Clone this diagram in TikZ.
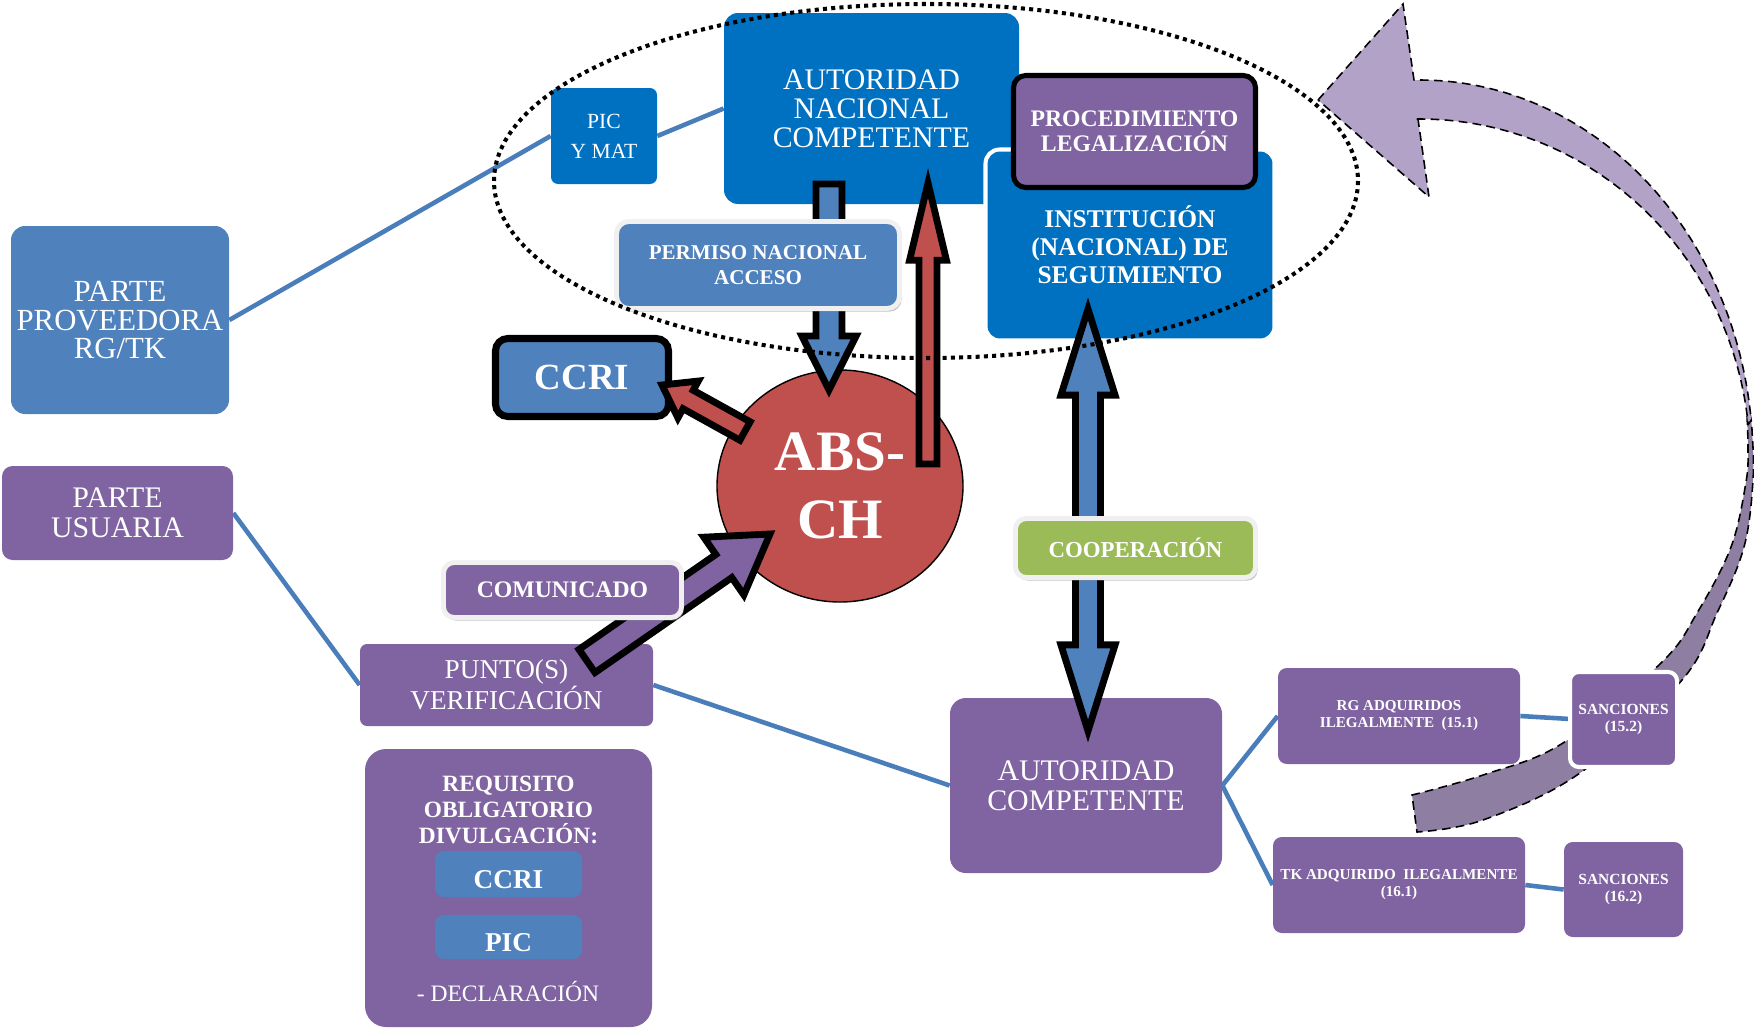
\documentclass[tikz,border=0pt]{standalone}
\usepackage{fontspec}
\setmainfont{Liberation Serif}
\usetikzlibrary{calc,shadows,shapes.geometric}
\definecolor{bA}{HTML}{0070C0}
\definecolor{bB}{HTML}{4F81BD}
\definecolor{pu}{HTML}{8064A2}
\definecolor{rd}{HTML}{C0504D}
\definecolor{gr}{HTML}{9BBB59}
\definecolor{lavL}{HTML}{B2A2C7}
\definecolor{lavD}{HTML}{8E7FA2}
\definecolor{lineB}{HTML}{4A7EBB}
\definecolor{rim}{HTML}{F0F0F0}
\newcommand{\fsz}[2]{\fontsize{#1pt}{#2pt}\selectfont}
\newcommand{\blkarrow}[6]{%
  \coordinate (hb) at ($(#3)!#6!(#2)$);
  \draw[#1] ($(#2)!#4!90:(#3)$) -- ($(hb)!#4!90:(#3)$) -- ($(hb)!#5!90:(#3)$) -- (#3)
    -- ($(hb)!#5!-90:(#3)$) -- ($(hb)!#4!-90:(#3)$) -- ($(#2)!#4!-90:(#3)$) -- cycle;}
\pgfdeclarelayer{bg}
\pgfsetlayers{bg,main}
\begin{document}
\begin{tikzpicture}[x=0.02cm,y=-0.02cm,
  bx/.style={rectangle, rounded corners=6pt, inner sep=0pt, align=center, text=white},
  wh/.style 2 args={minimum width=#1*0.02cm, minimum height=#2*0.02cm},
  txt/.style={inner sep=0pt, align=center, text=white},
  conn/.style={draw=lineB, line width=2.6pt},
  rimbox/.style={draw=rim, line width=2.8pt, drop shadow={shadow xshift=1.2pt,shadow yshift=-1.8pt,fill=black!45}},
  blk/.style={draw=black, line width=3.9pt, line join=miter, miter limit=12},
  ribbon/.style={draw=black, line width=0.9pt, dash pattern=on 5pt off 3pt},
  dotring/.style={draw=black, line width=2.3pt, dash pattern=on 2.3pt off 2.4pt}]
\begin{pgfonlayer}{bg}
\fill[white] (0,0) rectangle (1754,1028);
\end{pgfonlayer}
\useasboundingbox (0,0) rectangle (1754,1028);

% ---------- boxes ----------
\node[bx, fill=bB, wh={218}{188}, rounded corners=8pt, font=\fsz{17.5}{16.5}] (prov) at (120,320) {PARTE\\PROVEEDORA\\RG/TK};
\node[bx, fill=pu, wh={231}{94}, font=\fsz{17}{17}] (usu) at (117.5,513) {PARTE\\USUARIA};
\node[bx, fill=bA, wh={106}{96}, rounded corners=4pt, font=\fsz{12.3}{17}] (pic) at (604,136) {PIC\\Y MAT};
\node[bx, fill=bA, wh={295}{191}, rounded corners=8pt, font=\fsz{17}{16.5}] (anc) at (871.5,108.5) {AUTORIDAD\\NACIONAL\\COMPETENTE};
\node[bx, fill=bA, draw=white, line width=2.3pt, wh={289}{191}, rounded corners=8pt, font=\bfseries\fsz{14.5}{16}] (inst) at (1130,245) {INSTITUCIÓN\\(NACIONAL) DE\\SEGUIMIENTO};
\node[bx, fill=pu, draw=black, line width=2.9pt, wh={242}{112}, rounded corners=7pt, font=\bfseries\fsz{13.5}{14.2}] (proc) at (1134.5,131.5) {PROCEDIMIENTO\\LEGALIZACIÓN};
\node[bx, fill=bB, draw=black, line width=4pt, wh={173}{78}, rounded corners=7pt, font=\bfseries\fsz{21}{21}] (ccri) at (582,377.5) {CCRI};
\node[draw=black, line width=0.8pt, fill=rd, ellipse, inner sep=0pt, minimum width=246*0.02cm, minimum height=232*0.02cm, text=white, align=center, font=\bfseries\fsz{32.5}{38.7}] (abs) at (840,486) {ABS-\\CH};
\node[bx, fill=pu, wh={293}{82}, rounded corners=4pt, font=\fsz{15.5}{16}] (punto) at (506.5,685) {PUNTO(S)\\VERIFICACIÓN};
\node[bx, fill=pu, wh={287}{278}, rounded corners=12pt] (req) at (508.5,888) {};
\node[txt, font=\bfseries\fsz{13.3}{14.8}] (reqt) at (508.5,810) {REQUISITO\\OBLIGATORIO\\DIVULGACIÓN:};
\node[bx, fill=bB, wh={147}{46}, rounded corners=5pt, text height=16pt, text depth=0pt, font=\bfseries\fsz{15.5}{15.5}] (ccri2) at (508.5,874) {CCRI};
\node[bx, fill=bB, wh={147}{44}, rounded corners=5pt, text height=16pt, text depth=0pt, font=\bfseries\fsz{15.5}{15.5}] (pic2) at (508.5,937) {PIC};
\node[txt, font=\fsz{13.4}{14}] (decl) at (508,991) {- DECLARACIÓN};
\node[bx, fill=pu, wh={272}{175}, rounded corners=9pt, font=\fsz{17}{17}] (ac) at (1086,785.5) {AUTORIDAD\\COMPETENTE};
\node[bx, fill=pu, wh={242}{96}, rounded corners=5pt, font=\bfseries\fsz{8.6}{9.7}] (rg) at (1399,716) {RG ADQUIRIDOS\\ILEGALMENTE\ \ (15.1)};
\node[bx, fill=pu, wh={252}{96}, rounded corners=5pt, font=\bfseries\fsz{8.6}{9.7}] (tk) at (1399,885) {TK ADQUIRIDO\ \ ILEGALMENTE\\(16.1)};
\node[bx, fill=pu, wh={119}{95}, rounded corners=5pt, font=\bfseries\fsz{8.8}{9.7}] (s162) at (1623.5,889.5) {SANCIONES\\(16.2)};

% ---------- background: ribbon arrow and connector lines ----------
\begin{pgfonlayer}{bg}
\draw[ribbon, fill=lavD] (1747,416) -- plot[smooth, tension=0.6] coordinates {(1747,416) (1748,450) (1746,482) (1731,547) (1697,613) (1661,663) (1563,743) (1483,775) (1412,795)}
  -- (1417,832) -- plot[smooth, tension=0.6] coordinates {(1417,832) (1483,820) (1580,773) (1682,680) (1717,613) (1744,547) (1753,480) (1752,430) (1750,414)} -- cycle;
\draw[ribbon, fill=lavL] (1318,100) -- (1403,4) -- (1414,80)
  -- plot[domain=91:6, samples=60] ({1420+333*cos(\x)},{460-380*sin(\x)})
  -- plot[domain=6:91, samples=60] ({1420+330*cos(\x)},{460-341*sin(\x)})
  -- (1418,119) -- (1429,197) -- cycle;
\draw[conn] (prov.east) -- (pic.west);
\draw[conn] (pic.east) -- (anc.west);
\draw[conn] (usu.east) -- (punto.west);
\draw[conn] (punto.east) -- (ac.west);
\draw[conn] (ac.east) -- (rg.west);
\draw[conn] (ac.east) -- (tk.west);
\draw[conn] (rg.east) -- (1570,719);
\draw[conn] (tk.east) -- (s162.west);
\end{pgfonlayer}

\node[bx, fill=pu, draw=white, line width=2.3pt, wh={107}{95}, rounded corners=5pt, font=\bfseries\fsz{8.8}{9.7}] (s152) at (1623.5,719.5) {SANCIONES\\(15.2)};

% ---------- block arrows ----------
\coordinate (dnA) at (829,184); \coordinate (dnB) at (829,390);
\coordinate (upA) at (928,464); \coordinate (upB) at (928,183);
\coordinate (ccA) at (745,431); \coordinate (ccB) at (662,385);
\coordinate (cmA) at (587,661); \coordinate (cmB) at (770,534);
\blkarrow{blk, fill=bB}{dnA}{dnB}{7.4pt}{15.4pt}{30.7pt}
\blkarrow{blk, fill=rd}{upA}{upB}{5.1pt}{10.5pt}{44pt}
\blkarrow{blk, fill=rd}{ccA}{ccB}{6pt}{12pt}{17pt}
\blkarrow{blk, fill=pu}{cmA}{cmB}{8pt}{20pt}{32pt}
% double arrow
\coordinate (dbA) at (1088,309); \coordinate (dbB) at (1088,731);
\draw[blk, fill=bB] (dbA) -- ($(dbA)+(15.4pt,-49pt)$) -- ($(dbA)+(7.1pt,-49pt)$) -- ($(dbB)+(7.1pt,49pt)$) -- ($(dbB)+(15.4pt,49pt)$) -- (dbB)
  -- ($(dbB)+(-15.4pt,49pt)$) -- ($(dbB)+(-7.1pt,49pt)$) -- ($(dbA)+(-7.1pt,-49pt)$) -- ($(dbA)+(-15.4pt,-49pt)$) -- cycle;

% ---------- boxes over arrows ----------
\node[bx, fill=bB, rimbox, wh={283}{87}, rounded corners=7pt, font=\bfseries\fsz{12}{14.2}] (perm) at (758,265) {PERMISO NACIONAL\\ACCESO};
\node[bx, fill=pu, rimbox, wh={238}{55}, rounded corners=6pt, font=\bfseries\fsz{13.5}{14}] (comu) at (562.5,590) {COMUNICADO};
\node[bx, fill=gr, rimbox, wh={240}{59}, rounded corners=6pt, font=\bfseries\fsz{13}{14}] (coop) at (1135.5,548) {COOPERACIÓN};

% ---------- dotted ring ----------
\draw[dotring] (926,181) ellipse [x radius=432, y radius=177];
\end{tikzpicture}
\end{document}
